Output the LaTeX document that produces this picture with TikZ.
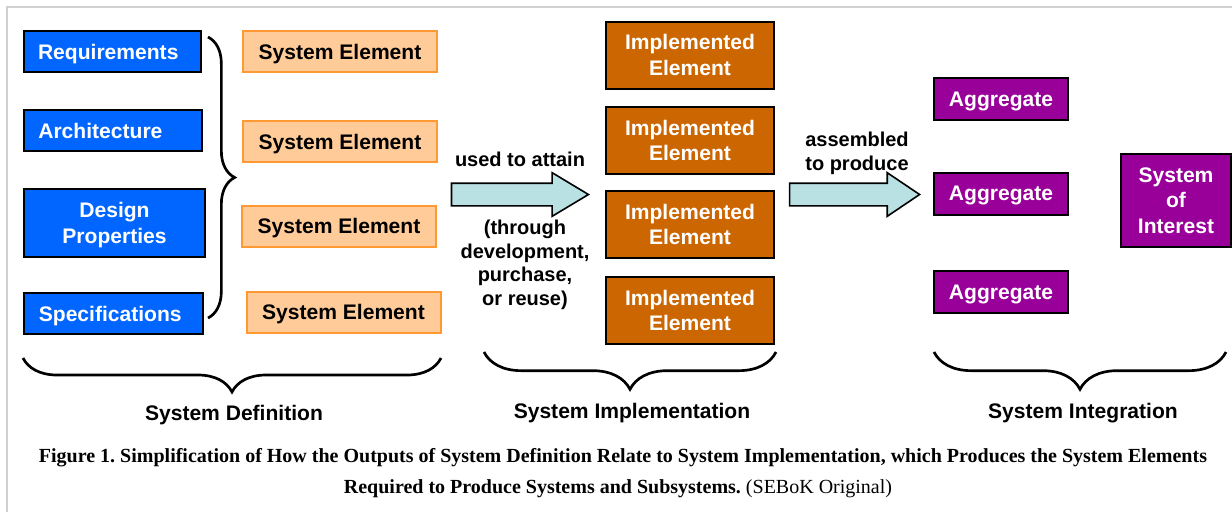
\documentclass[tikz,border=0pt]{standalone}
\usepackage{fontspec}
\setmainfont{Liberation Serif}
\setsansfont{Liberation Sans}
\usepackage{xcolor}
\usepackage{tikz}
\usetikzlibrary{positioning,calc,shapes.arrows,decorations.pathreplacing}
\definecolor{need}{HTML}{0066FF}
\definecolor{elem}{HTML}{FFCC99}
\definecolor{elemline}{HTML}{FF9933}
\definecolor{built}{HTML}{CC6600}
\definecolor{agg}{HTML}{990099}
\definecolor{flow}{HTML}{B9E0E3}
\definecolor{frame}{HTML}{D0D0D0}
\newcommand{\boxfont}{\sffamily\bfseries\fontsize{15.8}{19}\selectfont}
\frenchspacing

\begin{document}
\begin{tikzpicture}[x=0.75pt, y=-0.75pt,
  box/.style={draw, line width=1.5pt, font=\boxfont, align=center, inner sep=0pt, text depth=0pt},
  needbox/.style={box, fill=need, text=white, minimum height=30.75pt},
  elembox/.style={box, fill=elem, draw=elemline, minimum width=145.5pt, minimum height=30.75pt},
  builtbox/.style={box, fill=built, text=white, minimum width=126pt, minimum height=50.25pt},
  aggbox/.style={box, fill=agg, text=white, minimum width=100.5pt, minimum height=31.5pt},
  flowarrow/.style={single arrow, draw, line width=1.2pt, fill=flow, inner sep=0pt, single arrow head extend=7.9pt, anchor=tip},
  note/.style={font=\sffamily\bfseries\fontsize{15}{17.6}\selectfont, align=center},
  span/.style={decorate, decoration={brace, amplitude=#1}, line width=2pt}]
\useasboundingbox (0,0) rectangle (1232,512);
\draw[frame, line width=1.5pt] (7,512) -- (7,7) -- (1232,7);
\node[needbox, anchor=west, minimum width=133pt, text width=112pt, align=left] (reqs) at (23,51.5) {Requirements};
\node[needbox, anchor=west, minimum width=133.5pt, text width=112pt, align=left] (arch) at (23,130.5) {Architecture};
\node[needbox, anchor=west, minimum width=135.75pt, minimum height=51pt] (design) at (23,223) {Design\\Properties};
\node[needbox, anchor=west, minimum width=134.25pt, text width=112pt, align=left] (specs) at (23,313.5) {Specifications};
\foreach \i/\p in {1/{(340,51.5)},2/{(340,141.5)},3/{(339,226)},4/{(343.5,312)}} \node[elembox] (se\i) at \p {System Element};
\foreach \i/\y in {1/55,2/140.5,3/224.5,4/310.5} \node[builtbox] (ie\i) at (690,\y) {Implemented\\Element};
\foreach \i/\y in {1/99,2/193.5,3/292} \node[aggbox] (ag\i) at (1001,\y) {Aggregate};
\node[box, fill=agg, text=white, minimum width=82.5pt, minimum height=69.75pt] (soi) at (1176,200.5) {System\\of\\Interest};
\node[flowarrow, minimum height=102.75pt, single arrow tip angle=62] (attain) at (590,194.5) {\rule{0pt}{15.75pt}};
\node[flowarrow, minimum height=97.5pt, single arrow tip angle=68] (assemble) at (921,194.5) {\rule{0pt}{15.75pt}};
\node[note] (attaintxt) at (520,159) {used to attain};
\node[note] (through) at (525,265) {(through\\development,\\purchase,\\or reuse)};
\node[note, font=\sffamily\bfseries\fontsize{15}{18}\selectfont] (assembletxt) at (857,153) {assembled\\to produce};
\draw[span=20pt] (208,37) -- (208,318);
\draw[span=25.5pt] (441,358) -- (23,358);
\draw[span=28pt] (776,352) -- (484,352);
\draw[span=28pt] (1226,352) -- (934,352);
\node[note, font=\boxfont] (defn) at (234,415) {System Definition};
\node[note, font=\boxfont] (impl) at (632,413) {System Implementation};
\node[note, font=\boxfont] (integ) at (1083,413) {System Integration};
\node[font=\fontsize{15}{17}\selectfont] (cap1) at (623,458) {\textbf{Figure 1. Simplification of How the Outputs of System Definition Relate to System Implementation, which Produces the System Elements}};
\node[font=\fontsize{15}{17}\selectfont] (cap2) at (618,489) {\textbf{Required to Produce Systems and Subsystems.} (SEBoK Original)};
\end{tikzpicture}
\end{document}
